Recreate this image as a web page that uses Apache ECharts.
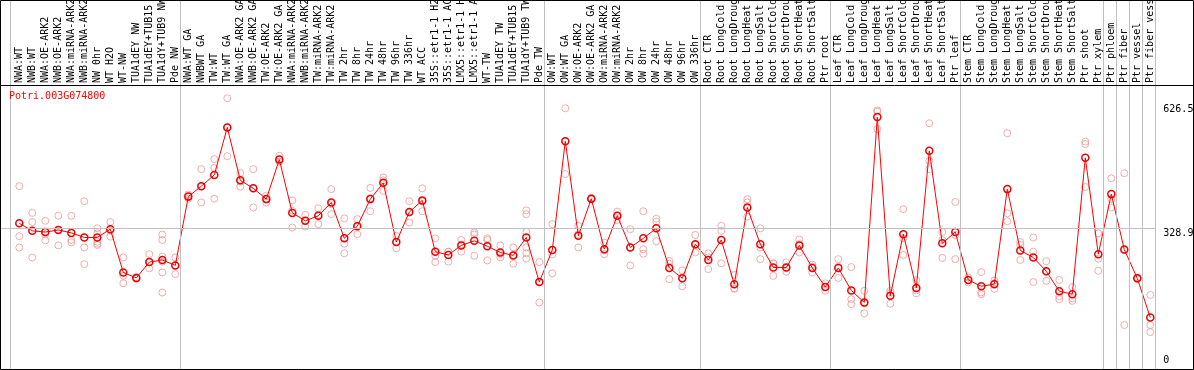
<!DOCTYPE html>
<html><head><meta charset="utf-8">
<script src="https://cdn.jsdelivr.net/npm/echarts@6/dist/echarts.min.js"></script>
<style>html,body{margin:0;padding:0;background:#fff}#c{width:1194px;height:370px}</style>
</head><body><div id="c"></div>
<script>
const titleText = 'Potri.003G074800';
const categories = [
 'NWA:WT','NWB:WT','NWA:OE-ARK2','NWB:OE-ARK2','NWA:miRNA-ARK2','NWB:miRNA-ARK2','NW 0hr','WT H2O','WT-NW','TUA1dEY NW','TUA1dEY+TUB15 NW','TUA1dY+TUB9 NW','Pde NW',
 'NWA:WT GA','NWBWT GA','TW:WT','TW:WT GA','NWA:OE-ARK2 GA','NWB:OE-ARK2 GA','TW:OE-ARK2','TW:OE-ARK2 GA','NWA:miRNA-ARK2 GA','NWB:miRNA-ARK2 GA','TW:miRNA-ARK2','TW:miRNA-ARK2 GA','TW 2hr','TW 8hr','TW 24hr','TW 48hr','TW 96hr','TW 336hr','WT ACC','35S::etr1-1 H2O','35S::etr1-1 ACC','LMX5::etr1-1 H2O','LMX5::etr1-1 ACC','WT-TW','TUA1dEY TW','TUA1dEY+TUB15 TW','TUA1dY+TUB9 TW','Pde TW',
 'OW:WT','OW:WT GA','OW:OE-ARK2','OW:OE-ARK2 GA','OW:miRNA-ARK2','OW:miRNA-ARK2 GA','OW 2hr','OW 8hr','OW 24hr','OW 48hr','OW 96hr','OW 336hr',
 'Root CTR','Root LongCold','Root LongDrought','Root LongHeat','Root LongSalt','Root ShortCold','Root ShortDrought','Root ShortHeat','Root ShortSalt','Ptr root',
 'Leaf CTR','Leaf LongCold','Leaf LongDrought','Leaf LongHeat','Leaf LongSalt','Leaf ShortCold','Leaf ShortDrought','Leaf ShortHeat','Leaf ShortSalt','Ptr leaf',
 'Stem CTR','Stem LongCold','Stem LongDrought','Stem LongHeat','Stem LongSalt','Stem ShortCold','Stem ShortDrought','Stem ShortHeat','Stem ShortSalt','Ptr shoot',
 'Ptr xylem','Ptr phloem','Ptr fiber','Ptr vessel','Ptr fiber vessel'
];
const means = [
 341,323,320,325,318,307,307,327,223,210,248,253,240,
 405,430,457,571,444,425,399,494,366,347,359,391,305,334,399,438,296,368,396,273,265,288,299,286,271,264,307,200,
 277,538,311,400,279,359,283,305,329,234,209,291,
 253,301,195,379,291,235,235,288,234,188,
 234,180,151,596,167,315,186,515,293,320,
 205,190,195,423,276,259,226,178,171,498,
 267,411,278,209,115
];
const replicates = [
 [430,310,283],[366,344,259],[347,315,300],[359,288,326],[359,301,295],[394,283,243],[329,317,297,292,289],[344,323,309],[259,215,197],[212,208,210],[267,248,233],[314,301,261,249,223,175],[259,240,219],
 [410,405,400],[471,430,391],[495,474,400],[641,571,502],[462,441,429],[471,425,379],[407,399,391],[503,490,489],[396,371,331],[361,347,333],[377,361,339],[423,387,363],[353,292,269],[351,336,315],[426,401,370],[451,444,419],[311,296,281],[394,367,343],[425,393,370],[305,263,248],[273,273,249],[301,290,273],[319,314,263],[305,301,252],[288,267,259],[283,265,244],[372,363,320,283,269,256],[248,201,151],
 [339,266,221],[617,538,459],[335,315,283],[402,400,398],[295,276,267],[369,359,349],[327,283,240],[370,279,268],[352,345,298],[251,244,207],[228,209,190],[313,289,271],
 [269,259,231],[335,323,245],[217,185,184],[399,391,357],[329,283,255],[245,245,215],[247,234,225],[302,291,271],[242,237,223],[197,188,179],
 [255,237,210],[236,159,147],[179,149,125],[612,609,567],[179,174,148],[375,305,265],[205,180,173],[581,491,471],[320,301,258],[392,313,255],
 [211,205,199],[224,175,171],[204,197,184],[557,365,346],[296,289,253],[307,273,200],[250,225,203],[205,166,159],[188,161,155],[537,531,428],
 [317,256,227],[449,399,379],[461,277,97],[211,209,207],[169,97,80]
];
const groupBreaks = [-0.69, 12.38, 40.38, 52.38, 62.38, 72.38, 83.38, 84.38, 85.38, 86.38, 87.38];
const yTickValues = [626.5, 328.9, 0];
const gridValue = 328.9;

const Y_MIN = -8.53, Y_MAX = 876.7, HEADER_Y = 672.8;
const X_MIN = -1.4846, X_MAX = 90.284;
const FONT = 'DejaVu Sans Mono';

const repData = [];
replicates.forEach((arr, i) => arr.forEach(v => repData.push([i, v])));
const meanData = means.map((v, i) => [i, v]);
const gray = '#c0c0c0';

const chart = echarts.init(document.getElementById('c'), null, {renderer: 'canvas'});
chart.setOption({
  animation: false,
  backgroundColor: '#fff',
  title: {text: titleText, left: 9, top: 91, padding: 0,
    textStyle: {fontFamily: FONT, fontSize: 10, fontWeight: 'normal', color: '#ff0000'}},
  grid: [
    {left: 0, right: 1, top: 0, bottom: 1, show: false, containLabel: false, outerBoundsMode: 'none'},
    {left: 12.8, right: 37.2, top: 85, bottom: 1, show: false, containLabel: false, outerBoundsMode: 'none'}
  ],
  xAxis: [
    {gridIndex: 0, type: 'value', min: X_MIN, max: X_MAX, show: false},
    {gridIndex: 1, type: 'category', position: 'top', data: categories, boundaryGap: true,
      axisLine: {show: false}, axisTick: {show: false}, splitLine: {show: false},
      axisLabel: {interval: 0, rotate: 90, margin: 2, fontFamily: FONT, fontSize: 10, color: '#000'}}
  ],
  yAxis: [
    {gridIndex: 0, type: 'value', min: Y_MIN, max: Y_MAX, show: false},
    {gridIndex: 1, type: 'value', show: false}
  ],
  graphic: [{type: 'rect', silent: true, z: 100,
    shape: {x: 0.5, y: 0.5, width: 1193, height: 369},
    style: {fill: 'none', stroke: '#000', lineWidth: 1}}],
  series: [
    {type: 'line', xAxisIndex: 1, yAxisIndex: 1, data: [], silent: true},
    {
      type: 'scatter', name: 'replicates', xAxisIndex: 0, yAxisIndex: 0, data: repData,
      symbol: 'circle', symbolSize: 7, z: 2, silent: true,
      itemStyle: {color: 'rgba(0,0,0,0)', borderColor: '#ee9999', borderWidth: 1},
      markLine: {
        silent: true, symbol: ['none', 'none'], label: {show: false}, animation: false,
        data: groupBreaks.map(b => ({xAxis: b, lineStyle: {color: gray, width: 1, type: 'solid'}}))
          .concat([
            [{coord: [X_MIN, gridValue], lineStyle: {color: gray, width: 1, type: 'solid'}},
             {coord: [groupBreaks[groupBreaks.length - 1], gridValue]}],
            {yAxis: HEADER_Y, lineStyle: {color: '#000', width: 1, type: 'solid'}}
          ])
      },
      markPoint: {
        silent: true, symbol: 'circle', symbolSize: 0, animation: false,
        label: {show: true, position: 'inside', align: 'left', fontFamily: FONT, fontSize: 10, color: '#000',
          formatter: p => String(p.value)},
        data: yTickValues.map(v => ({coord: [88, v], value: v,
          label: {verticalAlign: v === 0 ? 'bottom' : 'top'}}))
      }
    },
    {
      type: 'line', name: 'means', xAxisIndex: 0, yAxisIndex: 0, data: meanData,
      symbol: 'circle', symbolSize: 7, showAllSymbol: true, z: 3, silent: true,
      lineStyle: {color: '#ff0000', width: 1},
      itemStyle: {color: 'rgba(0,0,0,0)', borderColor: '#ee0000', borderWidth: 1.5}
    }
  ]
});
</script></body></html>
